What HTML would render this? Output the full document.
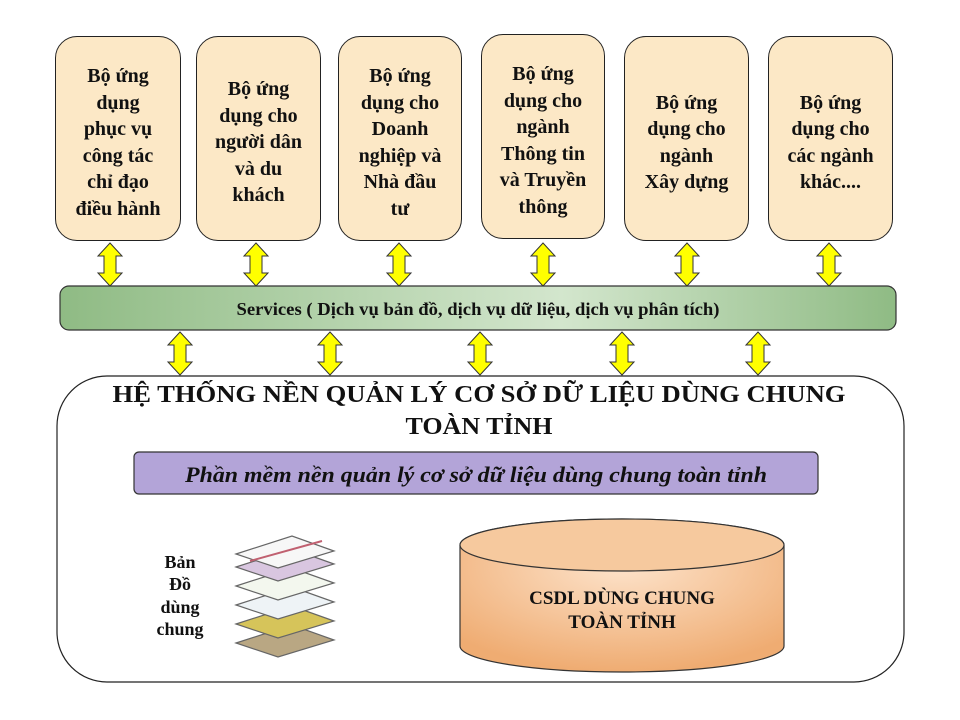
<!DOCTYPE html>
<html><head><meta charset="utf-8"><style>
body{margin:0;background:#fff;width:960px;height:720px;position:relative;overflow:hidden;font-family:"Liberation Serif",serif;}
.b{position:absolute;box-sizing:border-box;border:1.5px solid #222;border-radius:22px;background:#fce8c6;display:flex;align-items:center;justify-content:center;text-align:center;font-weight:bold;font-size:20px;line-height:26.5px;color:#111;padding-top:8px;}
svg{position:absolute;left:0;top:0}
</style></head><body>
<svg width="960" height="720" viewBox="0 0 960 720">
<defs>
<linearGradient id="g" x1="0" x2="1" y1="0" y2="0"><stop offset="0" stop-color="#8fbb84"/><stop offset="0.6" stop-color="#d3e6cd"/><stop offset="1" stop-color="#8fbb84"/></linearGradient>
<radialGradient id="o" cx="0.5" cy="0.3" r="0.7"><stop offset="0" stop-color="#fde3cb"/><stop offset="1" stop-color="#efac72"/></radialGradient>
</defs>
<g fill="#ffff00" stroke="#333" stroke-width="1">
<path id="a" d="M0,0 L12,13 L6,13 L6,30 L12,30 L0,43 L-12,30 L-6,30 L-6,13 L-12,13 Z" transform="translate(110,243)"/>
<use href="#a" x="146"/><use href="#a" x="289"/><use href="#a" x="433"/><use href="#a" x="577"/><use href="#a" x="719"/>
<use href="#a" x="70" y="89"/><use href="#a" x="220" y="89"/><use href="#a" x="370" y="89"/><use href="#a" x="512" y="89"/><use href="#a" x="648" y="89"/>
</g>
<rect x="60" y="286" width="836" height="44" rx="9" fill="url(#g)" stroke="#333" stroke-width="1.2"/>
<text x="478" y="315" text-anchor="middle" font-family="Liberation Serif" font-weight="bold" font-size="18" textLength="483" lengthAdjust="spacingAndGlyphs" fill="#111">Services ( Dịch vụ bản đồ, dịch vụ dữ liệu, dịch vụ phân tích)</text>
<rect x="57" y="376" width="847" height="306" rx="50" fill="#fff" stroke="#222" stroke-width="1.2"/>
<text x="479" y="402" text-anchor="middle" font-weight="bold" font-size="24" textLength="733" lengthAdjust="spacingAndGlyphs" fill="#111">HỆ THỐNG NỀN QUẢN LÝ CƠ SỞ DỮ LIỆU DÙNG CHUNG</text>
<text x="479" y="434" text-anchor="middle" font-weight="bold" font-size="24" textLength="147" lengthAdjust="spacingAndGlyphs" fill="#111">TOÀN TỈNH</text>
<rect x="134" y="452" width="684" height="42" rx="5" fill="#b3a4d8" stroke="#333" stroke-width="1.2"/>
<text x="476" y="482" text-anchor="middle" font-weight="bold" font-style="italic" font-size="22" textLength="582" lengthAdjust="spacingAndGlyphs" fill="#111">Phần mềm nền quản lý cơ sở dữ liệu dùng chung toàn tỉnh</text>
<path d="M460,545 A162,26 0 0 1 784,545 L784,646 A162,26 0 0 1 460,646 Z" fill="url(#o)" stroke="#333" stroke-width="1.2"/>
<ellipse cx="622" cy="545" rx="162" ry="26" fill="#f6c99e" stroke="#333" stroke-width="1.2"/>
<text x="622" y="604" text-anchor="middle" font-weight="bold" font-size="19" fill="#111">CSDL DÙNG CHUNG</text>
<text x="622" y="628" text-anchor="middle" font-weight="bold" font-size="19" fill="#111">TOÀN TỈNH</text>
<g font-weight="bold" font-size="18" text-anchor="middle" fill="#111">
<text x="180" y="568">Bản</text><text x="180" y="590">Đồ</text><text x="180" y="613">dùng</text><text x="180" y="635">chung</text>
</g>
<g stroke="#666" stroke-width="1.2">
<path d="M236,643 L292,625 L334,640 L278,657 Z" fill="#b9a783"/>
<path d="M236,624 L292,606 L334,621 L278,638 Z" fill="#d6c45a"/>
<path d="M236,605 L292,587 L334,602 L278,619 Z" fill="#eef3f6"/>
<path d="M236,586 L292,568 L334,583 L278,600 Z" fill="#f3f7ee"/>
<path d="M236,567 L292,549 L334,564 L278,581 Z" fill="#d9c6e0"/>
<path d="M236,554 L292,536 L334,551 L278,568 Z" fill="#f7f7f7"/>
<path d="M250,561 L322,541" stroke="#c06070" stroke-width="2"/>
</g>
</svg>
<div class="b" style="left:55px;top:36px;width:126px;height:205px">Bộ ứng<br>dụng<br>phục vụ<br>công tác<br>chỉ đạo<br>điều hành</div>
<div class="b" style="left:196px;top:36px;width:125px;height:205px">Bộ ứng<br>dụng cho<br>người dân<br>và du<br>khách</div>
<div class="b" style="left:338px;top:36px;width:124px;height:205px">Bộ ứng<br>dụng cho<br>Doanh<br>nghiệp và<br>Nhà đầu<br>tư</div>
<div class="b" style="left:481px;top:34px;width:124px;height:205px">Bộ ứng<br>dụng cho<br>ngành<br>Thông tin<br>và Truyền<br>thông</div>
<div class="b" style="left:624px;top:36px;width:125px;height:205px">Bộ ứng<br>dụng cho<br>ngành<br>Xây dựng</div>
<div class="b" style="left:768px;top:36px;width:125px;height:205px">Bộ ứng<br>dụng cho<br>các ngành<br>khác....</div>
</body></html>
